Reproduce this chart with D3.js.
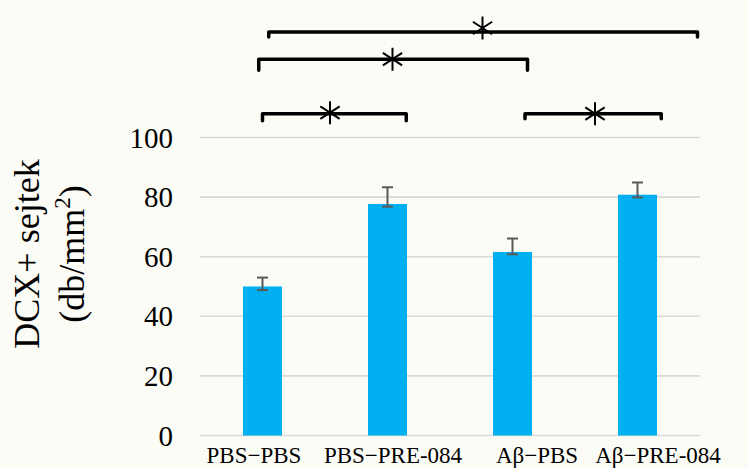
<!DOCTYPE html>
<html>
<head>
<meta charset="utf-8">
<script src="https://cdn.jsdelivr.net/npm/d3@7"></script>
<style>
  html, body { margin: 0; padding: 0; background: #fcfcf7; }
  svg { display: block; font-family: "Liberation Serif", "Times New Roman", serif; }
</style>
</head>
<body>
<svg id="chart" width="748" height="468"></svg>
<script>
// values
const categories = ['PBS\u2212PBS', 'PBS\u2212PRE-084', 'A\u03b2\u2212PBS', 'A\u03b2\u2212PRE-084'];
const means = [50, 77.7, 61.6, 80.8];
const errPlus = [3.0, 5.6, 4.5, 4.1];
const errMinus = [1.2, 0.9, 0.8, 0.9];
const yTicks = [0, 20, 40, 60, 80, 100];

// significance brackets, ends in category-index units, level in value units
const brackets = [
    { from: 0.0, to: 1.15, level: 108, drop: 7, star: 0.54, starUp: 1 },
    { from: 2.1, to: 3.19, level: 108, drop: 5, star: 2.66, starUp: 0 },
    { from: -0.03, to: 2.12, level: 126.3, drop: 11, star: 1.04, starUp: 0 },
    { from: 0.05, to: 3.48, level: 135.4, drop: 5, star: 1.76, starUp: 4 },
];

const svg = d3.select('#chart');
const plot = { left: 200, right: 700, top: 137.5, bottom: 435.5 };

const x = d3.scaleBand()
    .domain(categories)
    .range([plot.left, plot.right])
    .paddingInner(0.688)
    .paddingOuter(0.344);
const xi = d3.scaleLinear().domain([-0.5, 3.5]).range([plot.left, plot.right]);
const y = d3.scaleLinear().domain([0, 100]).range([plot.bottom, plot.top]);

// gridlines
svg.append('g')
    .selectAll('line')
    .data(yTicks)
    .enter()
    .append('line')
    .attr('x1', plot.left)
    .attr('x2', plot.right)
    .attr('y1', d => y(d))
    .attr('y2', d => y(d))
    .attr('stroke', '#d9d9d9')
    .attr('stroke-width', 1.6);

// y tick labels
svg.append('g')
    .selectAll('text')
    .data(yTicks)
    .enter()
    .append('text')
    .attr('x', plot.left - 27)
    .attr('y', d => y(d))
    .attr('dy', '0.35em')
    .attr('text-anchor', 'end')
    .attr('font-size', 29)
    .attr('fill', '#000')
    .text(d => d);

// bars
svg.append('g')
    .selectAll('rect')
    .data(means)
    .enter()
    .append('rect')
    .attr('x', (d, i) => x(categories[i]))
    .attr('width', x.bandwidth())
    .attr('y', d => y(d))
    .attr('height', d => y(0) - y(d))
    .attr('fill', '#00b0f0');

// error bars
const eb = svg.append('g')
    .attr('stroke', '#595959')
    .attr('stroke-width', 2);
means.forEach((m, i) => {
    const cx = x(categories[i]) + x.bandwidth() / 2;
    const hi = y(m + errPlus[i]);
    const lo = y(m - errMinus[i]);
    eb.append('line').attr('x1', cx).attr('x2', cx).attr('y1', hi).attr('y2', lo);
    eb.append('line').attr('x1', cx - 5.5).attr('x2', cx + 5.5).attr('y1', hi).attr('y2', hi);
    eb.append('line').attr('x1', cx - 5.5).attr('x2', cx + 5.5).attr('y1', lo).attr('y2', lo);
});

// x labels (placed a bit off-centre, as in the source picture)
const labelNudge = [-8.5, 5.5, 24.5, 20.5];
svg.append('g')
    .selectAll('text')
    .data(categories)
    .enter()
    .append('text')
    .attr('x', (d, i) => x(d) + x.bandwidth() / 2 + labelNudge[i])
    .attr('y', 463)
    .attr('text-anchor', 'middle')
    .attr('font-size', 23)
    .attr('fill', '#000')
    .text(d => d);

// y axis title
const title = svg.append('text')
    .attr('transform', 'translate(0,254) rotate(-90)')
    .attr('text-anchor', 'middle')
    .attr('font-size', 36)
    .attr('fill', '#000');
title.append('tspan').attr('x', 0).attr('y', 39).text('DCX+ sejtek');
const l2 = title.append('tspan').attr('x', 0).attr('y', 84);
l2.append('tspan').text('(db/mm');
l2.append('tspan').attr('font-size', 23).attr('dy', -14).text('2');
l2.append('tspan').attr('dy', 14).text(')');

// significance brackets
const br = svg.append('g');
brackets.forEach(b => {
    const x1 = xi(b.from);
    const x2 = xi(b.to);
    const yl = y(b.level);
    br.append('path')
        .attr('d', `M${x1},${yl + b.drop}V${yl}H${x2}V${yl + b.drop}`)
        .attr('fill', 'none')
        .attr('stroke', '#000')
        .attr('stroke-width', 3.5)
        .attr('stroke-linecap', 'round')
        .attr('stroke-linejoin', 'round');
    const sx = xi(b.star);
    const sy = yl - b.starUp;
    const r = 11.5;
    const a = 33 * Math.PI / 180;
    const dx = r * Math.cos(a);
    const dy = r * Math.sin(a);
    br.append('path')
        .attr('d', `M${sx},${sy - r}V${sy + r}M${sx - dx},${sy - dy}L${sx + dx},${sy + dy}M${sx - dx},${sy + dy}L${sx + dx},${sy - dy}`)
        .attr('stroke', '#000')
        .attr('stroke-width', 2)
        .attr('fill', 'none');
});
</script>
</body>
</html>
